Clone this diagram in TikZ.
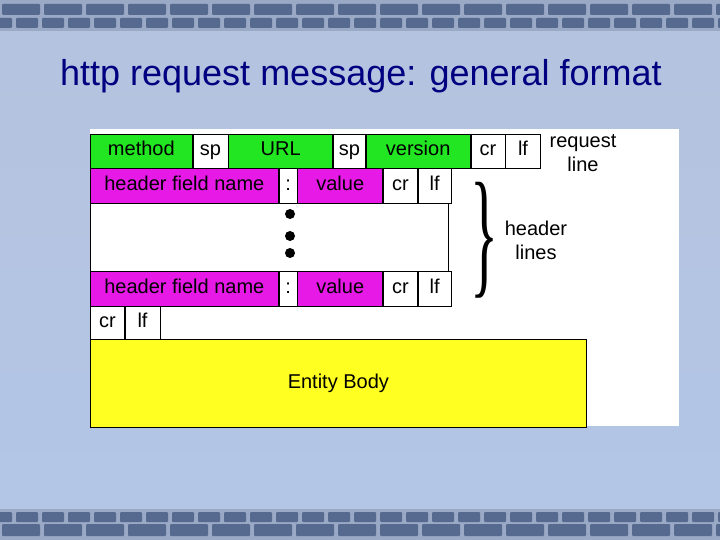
\documentclass[tikz,border=0pt]{standalone}
\usepackage{fontspec}
\setmainfont{Liberation Sans}
\newfontfamily\bracefont{Liberation Serif}
\usepackage{graphicx}
\usetikzlibrary{positioning}
\definecolor{titlenavy}{HTML}{000080}
\definecolor{reqgreen}{HTML}{22E622}
\definecolor{hdrmagenta}{HTML}{E619E6}
\definecolor{bodyyellow}{HTML}{FFFF22}
\definecolor{slidetop}{HTML}{B4C3DE}
\definecolor{slidemid}{HTML}{DDE6F6}
\definecolor{slidebot}{HTML}{B3C6E6}
\definecolor{brick}{HTML}{56698F}
\definecolor{mortar}{HTML}{9AA9C6}

\tikzset{
  field/.style={draw=black, line width=0.7pt, inner sep=0pt, anchor=west,
    text height=15pt, text depth=5pt, font=\fontsize{20}{24}\selectfont},
  sidenote/.style={align=center, font=\fontsize{20}{24}\selectfont}
}

\begin{document}
\begin{tikzpicture}[x=1pt, y=-1pt]
  \useasboundingbox (0,0) rectangle (720,540);

  % slide background
  \shade[top color=slidetop, middle color=slidemid, bottom color=slidebot]
    (0,0) rectangle (720,540);
  \fill[mortar] (0,0) rectangle (720,31);
  \fill[mortar] (0,509) rectangle (720,540);
  \foreach \x in {0,42,...,720} {
    \fill[brick, rounded corners=1pt] (\x+2,4) rectangle (\x+40,15);
    \fill[brick, rounded corners=1pt] (\x+2,524) rectangle (\x+40,536);
  }
  \foreach \x in {-12,14,...,720} {
    \fill[brick, rounded corners=1pt] (\x+2,18) rectangle (\x+24,28);
    \fill[brick, rounded corners=1pt] (\x+2,512) rectangle (\x+24,522);
  }

  \node[titlenavy, anchor=base, font=\fontsize{36}{40}\selectfont]
    (title) at (361,86) {http request message: general format};

  \fill[white] (90,129) rectangle (679,426);

  % request line
  \node[field, fill=reqgreen, minimum width=102pt, minimum height=34pt]
    (method) at (90,151) {method};
  \node[field, fill=white, minimum width=35pt, minimum height=34pt, right=0pt of method] (sp1) {sp};
  \node[field, fill=reqgreen, minimum width=104pt, minimum height=34pt, right=0pt of sp1] (url) {URL};
  \node[field, fill=white, minimum width=32pt, minimum height=34pt, right=0pt of url] (sp2) {sp};
  \node[field, fill=reqgreen, minimum width=104pt, minimum height=34pt, right=0pt of sp2] (version) {version};
  \node[field, fill=white, minimum width=34pt, minimum height=34pt, right=0pt of version] (reqcr) {cr};
  \node[field, fill=white, minimum width=35pt, minimum height=34pt, right=0pt of reqcr] (reqlf) {lf};

  % header lines
  \node[field, fill=hdrmagenta, minimum width=188pt, minimum height=35pt]
    (hname1) at (90,185.5) {header field name};
  \node[field, fill=white, minimum width=18pt, minimum height=35pt, right=0pt of hname1] (colon1) {:};
  \node[field, fill=hdrmagenta, minimum width=85pt, minimum height=35pt, right=0pt of colon1] (hvalue1) {value};
  \node[field, fill=white, minimum width=34pt, minimum height=35pt, right=0pt of hvalue1] (hcr1) {cr};
  \node[field, fill=white, minimum width=33pt, minimum height=35pt, right=0pt of hcr1] (hlf1) {lf};

  \node[field, fill=white, minimum width=358pt, minimum height=68pt]
    (gap) at (90,237) {};
  \foreach \y in {214,236,253}
    \fill (290,\y) circle (5pt);

  \node[field, fill=hdrmagenta, minimum width=188pt, minimum height=35pt]
    (hname2) at (90,288.5) {header field name};
  \node[field, fill=white, minimum width=18pt, minimum height=35pt, right=0pt of hname2] (colon2) {:};
  \node[field, fill=hdrmagenta, minimum width=85pt, minimum height=35pt, right=0pt of colon2] (hvalue2) {value};
  \node[field, fill=white, minimum width=34pt, minimum height=35pt, right=0pt of hvalue2] (hcr2) {cr};
  \node[field, fill=white, minimum width=33pt, minimum height=35pt, right=0pt of hcr2] (hlf2) {lf};

  % blank line and body
  \node[field, fill=white, minimum width=34pt, minimum height=33pt]
    (endcr) at (90,322.5) {cr};
  \node[field, fill=white, minimum width=35pt, minimum height=33pt, right=0pt of endcr] (endlf) {lf};
  \node[field, fill=bodyyellow, minimum width=496pt, minimum height=88pt]
    (body) at (90,383) {Entity Body};

  \node[sidenote] (reqnote) at (583,153) {request\\line};
  \node[inner sep=0pt] (brace) at (484,240)
    {\resizebox*{28pt}{116pt}{\bracefont\}}};
  \node[sidenote] (hdrnote) at (536,240) {header\\lines};
\end{tikzpicture}
\end{document}
